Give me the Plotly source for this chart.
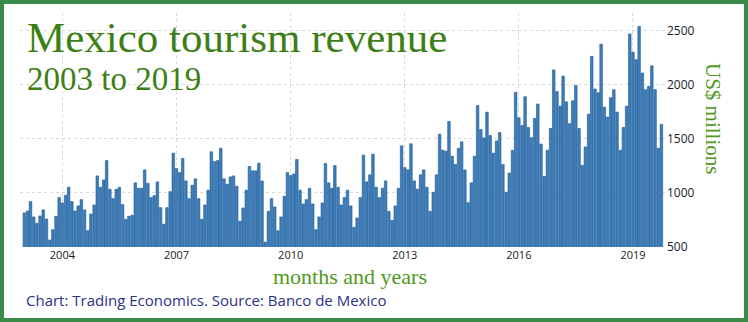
import pandas as pd
import plotly.graph_objects as go

# ---- data (US$ millions), monthly from Jan 2003 ----
start_month = "2003-01-01"
v2003 = [815, 833, 920, 778, 719, 787, 843, 759, 565, 660, 784, 957]
v2004 = [907, 978, 1052, 920, 833, 880, 938, 843, 651, 805, 889, 1157]
v2005 = [1052, 1120, 1299, 1034, 947, 1034, 1052, 892, 756, 784, 793, 1093]
v2006 = [1043, 1043, 1213, 1089, 957, 975, 1102, 864, 710, 864, 1012, 1367]
v2007 = [1225, 1188, 1318, 1111, 947, 1071, 1130, 947, 756, 889, 1025, 1380]
v2008 = [1290, 1299, 1413, 1130, 1080, 1148, 1157, 1062, 738, 861, 1025, 1244]
v2009 = [1204, 1204, 1275, 1110, 545, 830, 947, 870, 651, 778, 969, 1188]
v2010 = [1160, 1175, 1309, 1025, 898, 938, 1043, 898, 660, 778, 907, 1272]
v2011 = [1093, 1043, 1253, 1052, 889, 957, 1025, 880, 682, 768, 957, 1349]
v2012 = [1102, 1167, 1358, 1052, 957, 1043, 1111, 830, 747, 880, 1043, 1435]
v2013 = [1234, 1213, 1454, 1111, 1034, 1167, 1213, 1052, 830, 1006, 1167, 1543]
v2014 = [1395, 1386, 1660, 1339, 1262, 1413, 1472, 1213, 910, 1093, 1339, 1808]
v2015 = [1586, 1509, 1746, 1531, 1367, 1481, 1558, 1262, 1006, 1184, 1394, 1929]
v2016 = [1695, 1624, 1889, 1605, 1510, 1689, 1822, 1452, 1153, 1394, 1596, 2137]
v2017 = [1937, 1802, 2080, 1842, 1640, 1851, 1993, 1596, 1255, 1425, 1728, 2262]
v2018 = [1960, 1926, 2375, 1793, 1701, 1880, 1954, 1747, 1394, 1605, 1802, 2469]
v2019 = [2300, 2231, 2539, 2108, 1954, 1985, 2175, 1954, 1413, 1633]

values = (v2003 + v2004 + v2005 + v2006 + v2007 + v2008 + v2009 + v2010 + v2011
          + v2012 + v2013 + v2014 + v2015 + v2016 + v2017 + v2018 + v2019)
months = pd.date_range(start_month, periods=len(values), freq="MS")

tick_years = ["2004", "2007", "2010", "2013", "2016", "2019"]
y_ticks = [500, 1000, 1500, 2000, 2500]

title_text = "Mexico tourism revenue"
subtitle_text = "2003 to 2019"
y_title = "US$ millions"
x_title = "months and years"
source_text = "Chart: Trading Economics. Source: Banco de Mexico"

# ---- layout geometry ----
W, H = 748, 322
ML, MR, MT, MB = 20, 82, 13, 75
PW, PH = W - ML - MR, H - MT - MB


def px(x):
    return (x - ML) / PW


def py(y):
    return (H - MB - y) / PH


fig = go.Figure()
fig.add_trace(go.Bar(
    x=months, y=values, base=0,
    marker=dict(color="#3f7db8", line=dict(color="#1b5a99", width=0.6)),
    hoverinfo="x+y",
))

fig.update_layout(
    width=W, height=H,
    margin=dict(l=ML, r=MR, t=MT, b=MB),
    paper_bgcolor="white", plot_bgcolor="white",
    bargap=0.12, showlegend=False,
    xaxis=dict(
        type="date", range=["2002-11-20", "2019-11-14"],
        tickvals=[f"{y}-01-01" for y in tick_years], ticktext=tick_years,
        showgrid=True, gridcolor="#d9d9d9", griddash="dot", gridwidth=1,
        ticks="", showline=False, zeroline=False,
        tickfont=dict(family="Open Sans", size=11, color="#1a1a1a"),
        ticklabelstandoff=0,
    ),
    yaxis=dict(
        range=[500, 2663], side="right",
        tickvals=y_ticks, ticktext=[str(t) for t in y_ticks],
        showgrid=True, gridcolor="#d9d9d9", griddash="dot", gridwidth=1,
        ticks="", showline=False, zeroline=False,
        tickfont=dict(family="Open Sans", size=12, color="#1a1a2a"),
        ticklabelstandoff=0,
    ),
)

# white panel behind the title block (hides grid there, as in the reference)
fig.add_shape(type="rect", xref="paper", yref="paper", layer="between",
              x0=px(ML), x1=px(590), y0=py(58), y1=py(MT),
              line=dict(width=0), fillcolor="white")
fig.add_shape(type="rect", xref="paper", yref="paper", layer="between",
              x0=px(ML), x1=px(205), y0=py(96), y1=py(58),
              line=dict(width=0), fillcolor="white")

green = "#3c7f16"
fig.add_annotation(x=px(26), y=py(38), xref="paper", yref="paper",
                   text=title_text, showarrow=False, xanchor="left", yanchor="middle",
                   font=dict(family="Liberation Serif", size=43, color=green),
                   borderpad=0)
fig.add_annotation(x=px(26), y=py(79), xref="paper", yref="paper",
                   text=subtitle_text, showarrow=False, xanchor="left", yanchor="middle",
                   font=dict(family="Liberation Serif", size=33, color=green),
                   borderpad=0)
fig.add_annotation(x=px(713), y=py(118), xref="paper", yref="paper",
                   text=y_title, showarrow=False, textangle=90,
                   xanchor="center", yanchor="middle",
                   font=dict(family="Liberation Serif", size=21, color="#4f9a22"))
fig.add_annotation(x=px(350), y=py(276), xref="paper", yref="paper",
                   text=x_title, showarrow=False, xanchor="center", yanchor="middle",
                   font=dict(family="Liberation Serif", size=22, color="#4f9a22"),
                   borderpad=0)
fig.add_annotation(x=px(24), y=py(300), xref="paper", yref="paper",
                   text=source_text, showarrow=False, xanchor="left", yanchor="middle",
                   font=dict(family="Open Sans", size=15, color="#2b3287"))

# green frame around the whole picture
fig.add_shape(type="rect", xref="paper", yref="paper",
              x0=px(2), x1=px(W - 2), y0=py(H - 2), y1=py(2),
              line=dict(color="#3a8a4a", width=4), fillcolor="rgba(0,0,0,0)",
              layer="above")

fig.write_html("out.html")
